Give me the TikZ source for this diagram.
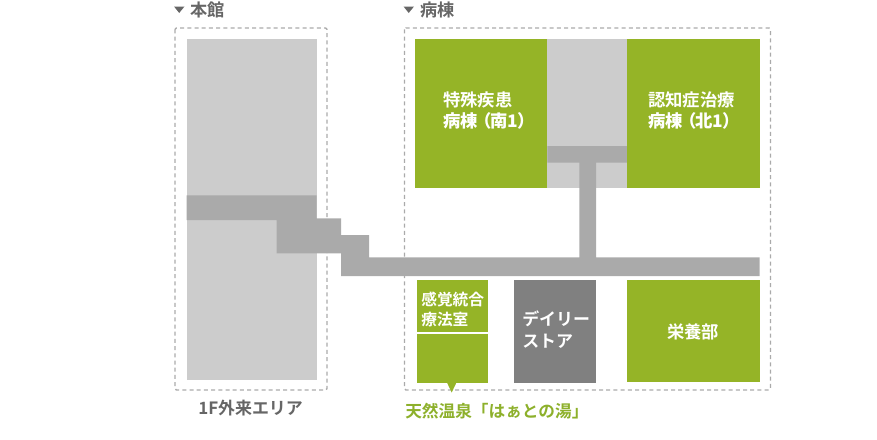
\documentclass[tikz,border=0pt]{standalone}
\usepackage{fontspec}
\setmainfont{Noto Sans CJK JP}[BoldFont={Noto Sans CJK JP Bold}]
\newfontfamily\palt{Noto Sans CJK JP Bold}[RawFeature=+palt]
\definecolor{leaf}{HTML}{95B427}
\definecolor{leaftxt}{HTML}{8DB02B}
\definecolor{wing}{HTML}{CCCCCC}
\definecolor{hall}{HTML}{AAAAAA}
\definecolor{shop}{HTML}{808080}
\definecolor{ink}{HTML}{666666}
\tikzset{
  px/.style={x=0.75pt,y=-0.75pt},
  zone/.style={draw=hall,line width=1pt,dash pattern=on 3pt off 2.4pt,rounded corners=1pt},
  wingfill/.style={fill=wing},
  hallfill/.style={fill=hall},
  room/.style={fill=leaf},
  lab/.style={inner sep=0pt,font=\bfseries\fontsize{13}{13}\selectfont,text=white,anchor=west},
  smalllab/.style={lab,font=\bfseries\fontsize{11.8}{12}\selectfont},
  head/.style={inner sep=0pt,font=\bfseries\fontsize{12.9}{13}\selectfont,text=ink,anchor=west},
  marker/.style={fill=ink}
}
\begin{document}
\begin{tikzpicture}[px]
\useasboundingbox (0,0) rectangle (877,439);
% zones
\draw[zone] (175,28) rectangle (327,390);
\draw[zone] (404.5,28) rectangle (770.5,390);
% main building
\fill[wingfill] (186.7,39.3) rectangle (316.7,380);
% ward centre
\fill[wingfill] (547.3,39.3) rectangle (627.3,188.3);
% corridors
\fill[hallfill] (186.7,195.3) -- (316.7,195.3) -- (316.7,218.3) -- (341,218.3) -- (341,235) -- (369,235) -- (369,257.3) -- (579.3,257.3) -- (579.3,162.7) -- (547.3,162.7) -- (547.3,146) -- (627.3,146) -- (627.3,162.7) -- (596,162.7) -- (596,257.3) -- (759.5,257.3) -- (759.5,276) -- (341,276) -- (341,253.3) -- (276.7,253.3) -- (276.7,220) -- (186.7,220) -- cycle;
% rooms
\fill[room] (415,39.3) rectangle (547.3,188.3);
\fill[room] (627.3,39.3) rectangle (759.5,188.3);
\fill[room] (417.3,280) rectangle (487.7,331.7);
\fill[room] (417.3,334) rectangle (487.7,382.7);
\fill[room] (446.7,382) -- (456.7,382) -- (451.7,392.5) -- cycle;
\fill[shop] (514,280) rectangle (595.7,382.7);
\fill[room] (627.3,279.5) rectangle (759.5,382.3);
% header markers
\fill[marker] (174,6.5) -- (184.5,6.5) -- (179.2,13) -- cycle;
\fill[marker] (403.5,6.5) -- (414,6.5) -- (408.7,13) -- cycle;
% labels
\node[head] (hHonkan) at (190,10) {本館};
\node[head] (hByoto) at (420.5,10) {病棟};
\node[lab] (s1) at (443,100) {特殊疾患};
\node[lab] (s2) at (443,121) {\palt 病棟 （南1）};
\node[lab] (n1) at (648,100) {認知症治療};
\node[lab] (n2) at (648,121) {\palt 病棟 （北1）};
\node[smalllab] (k1) at (421,299) {感覚統合};
\node[smalllab] (k2) at (421,320) {療法室};
\node[lab,font=\bfseries\fontsize{12.7}{13}\selectfont] (d1) at (522,319) {デイリー};
\node[lab,font=\bfseries\fontsize{12.7}{13}\selectfont] (d2) at (522,341) {ストア};
\node[lab] (e1) at (667,332) {栄養部};
\node[head,font=\bfseries\fontsize{12.7}{13}\selectfont] (f1) at (198,408) {1F外来エリア};
\node[head,font=\bfseries\fontsize{12.5}{13}\selectfont,text=leaftxt] (o1) at (405,411) {天然温泉「はぁとの湯」};
\end{tikzpicture}
\end{document}
